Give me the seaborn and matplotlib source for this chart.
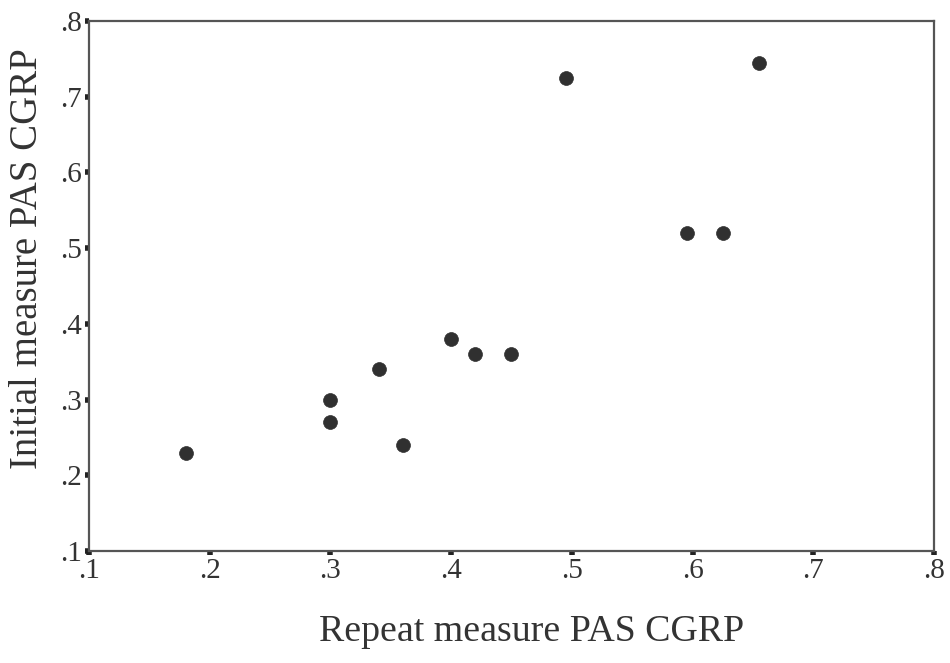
import matplotlib
matplotlib.use("Agg")
import matplotlib.pyplot as plt
import seaborn as sns
import pandas as pd

repeat_measure = [0.18, 0.30, 0.30, 0.34, 0.36, 0.40, 0.42, 0.45, 0.495, 0.595, 0.625, 0.655]
initial_measure = [0.23, 0.30, 0.27, 0.34, 0.24, 0.38, 0.36, 0.36, 0.725, 0.52, 0.52, 0.745]
tick_values = [0.1, 0.2, 0.3, 0.4, 0.5, 0.6, 0.7, 0.8]
tick_labels = [".1", ".2", ".3", ".4", ".5", ".6", ".7", ".8"]

df = pd.DataFrame({"Repeat measure PAS CGRP": repeat_measure,
                   "Initial measure PAS CGRP": initial_measure})

sns.set_theme(style="white")
plt.rcParams["font.family"] = ["Liberation Serif", "DejaVu Serif"]

fig = plt.figure(figsize=(9.5, 6.63), dpi=100)
ax = fig.add_axes([89/950, 1 - 551/663, (934-89)/950, (551-21)/663])

sns.scatterplot(data=df, x="Repeat measure PAS CGRP", y="Initial measure PAS CGRP",
                ax=ax, s=100, color="#303030", edgecolor="#303030", linewidth=0.5)

ax.set_xlim(0.1, 0.8)
ax.set_ylim(0.1, 0.8)
ax.set_xticks(tick_values)
ax.set_xticklabels(tick_labels)
ax.set_yticks(tick_values)
ax.set_yticklabels(tick_labels)

for sp in ax.spines.values():
    sp.set_visible(True)
    sp.set_color("#555555")
    sp.set_linewidth(1.6)

ax.tick_params(axis="both", which="major", direction="out", length=3.2, width=4,
               color="#222222", labelsize=21, labelcolor="#333333", pad=2)
ax.tick_params(top=False, right=False, bottom=True, left=True)

ax.set_xlabel("Repeat measure PAS CGRP", fontsize=27.3, color="#333333")
ax.set_ylabel("Initial measure PAS CGRP", fontsize=28, color="#333333")
ax.xaxis.set_label_coords(0.524, -0.12)
ax.yaxis.set_label_coords(-0.051, 0.551)

fig.savefig("out.png", dpi=100)
